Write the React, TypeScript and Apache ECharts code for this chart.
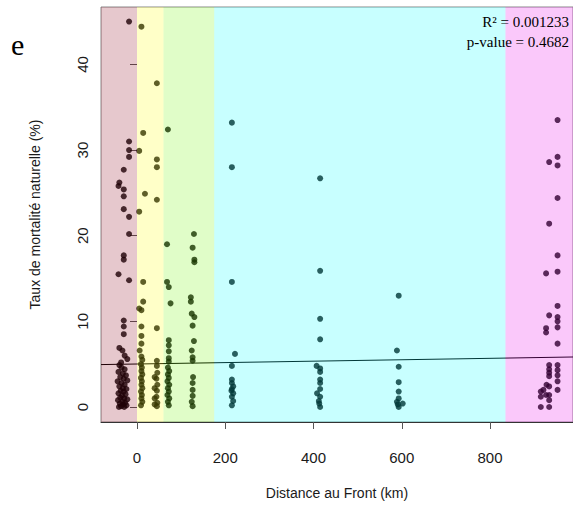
import React, { useEffect, useRef } from "react";
import * as echarts from "echarts";

// ---- data ----
const xTicks = [0, 200, 400, 600, 800];
const yTicks = [0, 10, 20, 30, 40];

// zone boundaries (km) and fills
const zoneStarts = [-81.6, 0, 60, 175, 835];
const zoneEnds = [0, 60, 175, 835, 988];
const zoneColors = [
  "rgba(141,5,28,0.22)",
  "rgba(255,255,5,0.22)",
  "rgba(114,245,5,0.22)",
  "rgba(5,255,255,0.22)",
  "rgba(232,5,232,0.22)",
];

const zoneRed = [
  [-18, 45.0], [-18, 31.0], [-18, 30.0], [-18, 29.2], [-30, 27.7], [-40, 26.2], [-42, 25.8], [-30, 25.4],
  [-30, 24.6], [-30, 23.1], [-18, 22.2], [-18, 20.2], [-30, 17.7], [-30, 17.2], [-42, 15.5], [-18, 14.8],
  [-30, 10.1], [-30, 9.4], [-30, 8.5], [-40, 6.9], [-33, 6.6], [-28, 6.0], [-22, 5.6], [-36, 5.2],
  [-40, 4.9], [-35, 4.6], [-28, 4.4], [-42, 4.1], [-32, 3.9], [-25, 3.7], [-38, 3.5], [-30, 3.3],
  [-22, 3.1], [-44, 3.0], [-35, 2.8], [-28, 2.6], [-40, 2.4], [-32, 2.2], [-24, 2.1], [-37, 1.9],
  [-30, 1.8], [-42, 1.6], [-26, 1.5], [-34, 1.3], [-38, 1.1], [-29, 1.0], [-22, 0.9], [-43, 0.8],
  [-33, 0.6], [-27, 0.5], [-39, 0.4], [-31, 0.3], [-24, 0.2], [-36, 0.1], [-41, 0.0], [-29, 0.0],
];

const zoneYellow = [
  [10, 44.4], [45, 37.8], [14, 32.0], [5, 29.9], [45, 28.9], [45, 28.0], [18, 24.9], [45, 24.2],
  [5, 22.8], [14, 14.6], [14, 12.3], [5, 11.5], [10, 11.3], [45, 9.2], [10, 9.4], [10, 8.3],
  [10, 7.4], [6, 6.6], [45, 5.4],
  [10, 5.9], [12, 5.5], [9, 5.0], [11, 4.6], [10, 4.2], [12, 3.8], [9, 3.4], [11, 3.0], [10, 2.6],
  [12, 2.2], [9, 1.8], [11, 1.4], [10, 1.0], [12, 0.6], [9, 0.2],
  [45, 4.8], [46, 4.0], [44, 3.3], [46, 2.6], [45, 1.9], [44, 1.2], [46, 0.5], [45, 0.1],
  [40, 3.5], [40, 2.2], [40, 1.0], [40, 0.3],
];

const zoneGreen = [
  [70, 32.4], [68, 19.0], [68, 14.6], [72, 14.0], [76, 12.1], [72, 7.8], [72, 7.2], [72, 6.5],
  [72, 5.7], [72, 5.3], [70, 4.6], [73, 4.2], [70, 3.8], [72, 3.4], [69, 3.0], [73, 2.6],
  [70, 2.2], [72, 1.8], [69, 1.4], [73, 1.0], [70, 0.6], [72, 0.2],
  [129, 20.2], [126, 18.6], [130, 17.2], [130, 16.9], [122, 12.8], [122, 12.3], [124, 10.9], [130, 10.5],
  [126, 9.5], [129, 7.7], [124, 6.6], [126, 5.8], [126, 5.4], [127, 3.5], [126, 2.8], [126, 2.0],
  [126, 1.3], [124, 0.6], [126, 0.1],
];

const zoneCyan = [
  [215, 33.2], [215, 28.0], [215, 14.6], [222, 6.2], [215, 4.8], [215, 3.2], [215, 2.8], [215, 2.1],
  [218, 1.6], [215, 1.2], [218, 0.7], [215, 0.2], [218, 2.4], [214, 1.9],
  [415, 26.7], [415, 15.9], [415, 10.3], [415, 7.9], [407, 4.8], [415, 4.5], [415, 4.1], [415, 3.2],
  [415, 2.8], [415, 2.1], [408, 1.6], [415, 1.2], [412, 0.7], [415, 0.0], [413, 0.4],
  [593, 13.0], [589, 6.6], [593, 4.7], [593, 2.9], [593, 1.8], [593, 1.0], [602, 0.4], [589, 0.6],
  [593, 0.0], [591, 0.3],
];

const zonePink = [
  [953, 33.5], [934, 28.6], [953, 29.2], [953, 28.2], [953, 24.4], [934, 21.4], [953, 17.7], [927, 15.6],
  [953, 15.8], [953, 11.8], [934, 10.7], [953, 10.5], [953, 10.0], [927, 9.2], [953, 9.3], [927, 8.7],
  [953, 7.4], [934, 4.9], [953, 4.9], [934, 4.4], [953, 4.3], [953, 3.7], [934, 4.0], [934, 3.6],
  [953, 3.0], [928, 2.6], [934, 2.4], [915, 1.8], [921, 2.0], [953, 2.0], [934, 1.4], [915, 1.2],
  [927, 1.4], [934, 0.8], [915, 0.0], [934, 0.0],
];

const regIntercept = 5.02;
const regSlope = 0.00083;
const xMin = -81.6;
const xMax = 988;
const yMin = -1.75;
const yMax = 46.7;

const sans = "Liberation Sans";
const serif = "Liberation Serif";

export default function App() {
  const ref = useRef<HTMLDivElement>(null);

  useEffect(() => {
    document.body.style.margin = "0";
    if (!ref.current) return;
    const chart = echarts.init(ref.current, undefined, { renderer: "svg" });

    const allPoints = [...zoneRed, ...zoneYellow, ...zoneGreen, ...zoneCyan, ...zonePink];
    const zoneData = zoneStarts.map((s, i) => [s, zoneEnds[i]]);

    chart.setOption({
      animation: false,
      backgroundColor: "#fff",
      grid: {
        left: 101,
        top: 7,
        width: 472,
        height: 415,
        show: true,
        borderColor: "#888",
        borderWidth: 1,
        backgroundColor: "transparent",
      },
      xAxis: {
        type: "value",
        min: xMin,
        max: xMax,
        splitLine: { show: false },
        axisLine: { show: true, onZero: false, lineStyle: { color: "#333", width: 1 } },
        axisTick: { show: true, customValues: xTicks, length: 7, lineStyle: { color: "#555" } },
        axisLabel: {
          customValues: xTicks,
          margin: 28,
          fontSize: 15,
          fontFamily: sans,
          color: "#1a1a1a",
        },
        name: "Distance au Front (km)",
        nameLocation: "middle",
        nameGap: 64,
        nameTextStyle: { fontSize: 14, fontFamily: sans, color: "#1a1a1a" },
      },
      yAxis: {
        type: "value",
        min: yMin,
        max: yMax,
        splitLine: { show: false },
        axisLine: { show: false },
        axisTick: { show: true, customValues: yTicks, length: 7, lineStyle: { color: "#555" } },
        axisLabel: {
          customValues: yTicks,
          rotate: 90,
          margin: 11,
          fontSize: 15,
          fontFamily: sans,
          color: "#1a1a1a",
        },
        name: "Taux de mortalité naturelle (%)",
        nameLocation: "middle",
        nameGap: 59,
        nameRotate: 90,
        nameTextStyle: { fontSize: 14, fontFamily: sans, color: "#1a1a1a" },
      },
      series: [
        {
          type: "scatter",
          data: allPoints,
          symbol: "circle",
          symbolSize: 6,
          itemStyle: { color: "#000" },
          z: 2,
          silent: true,
        },
        {
          type: "line",
          data: [
            [xMin, regIntercept + regSlope * xMin],
            [xMax, regIntercept + regSlope * xMax],
          ],
          symbol: "none",
          lineStyle: { color: "#000", width: 1 },
          z: 3,
          silent: true,
        },
        {
          type: "custom",
          data: zoneData,
          encode: { x: [0, 1] },
          z: 10,
          silent: true,
          renderItem: (params: any, api: any) => {
            const s = api.coord([api.value(0), 0]);
            const e = api.coord([api.value(1), 0]);
            const cs = params.coordSys;
            return {
              type: "rect",
              shape: { x: s[0], y: cs.y, width: e[0] - s[0], height: cs.height },
              style: { fill: zoneColors[params.dataIndex] },
            };
          },
        },
      ],
      graphic: [
        {
          type: "text",
          left: 11,
          top: 29,
          style: {
            text: "e",
            fontSize: 30,
            fontFamily: serif,
            fontWeight: "normal",
            fill: "#000",
          },
        },
        {
          type: "text",
          x: 569,
          y: 22,
          style: {
            text: "R² = 0.001233",
            fontSize: 15,
            fontFamily: serif,
            fill: "#000",
            textAlign: "right",
            textVerticalAlign: "middle",
          },
          z: 20,
        },
        {
          type: "text",
          x: 569,
          y: 42,
          style: {
            text: "p-value = 0.4682",
            fontSize: 15,
            fontFamily: serif,
            fill: "#000",
            textAlign: "right",
            textVerticalAlign: "middle",
          },
          z: 20,
        },
      ],
    });

    return () => chart.dispose();
  }, []);

  return <div ref={ref} style={{ width: 573, height: 508 }} />;
}
